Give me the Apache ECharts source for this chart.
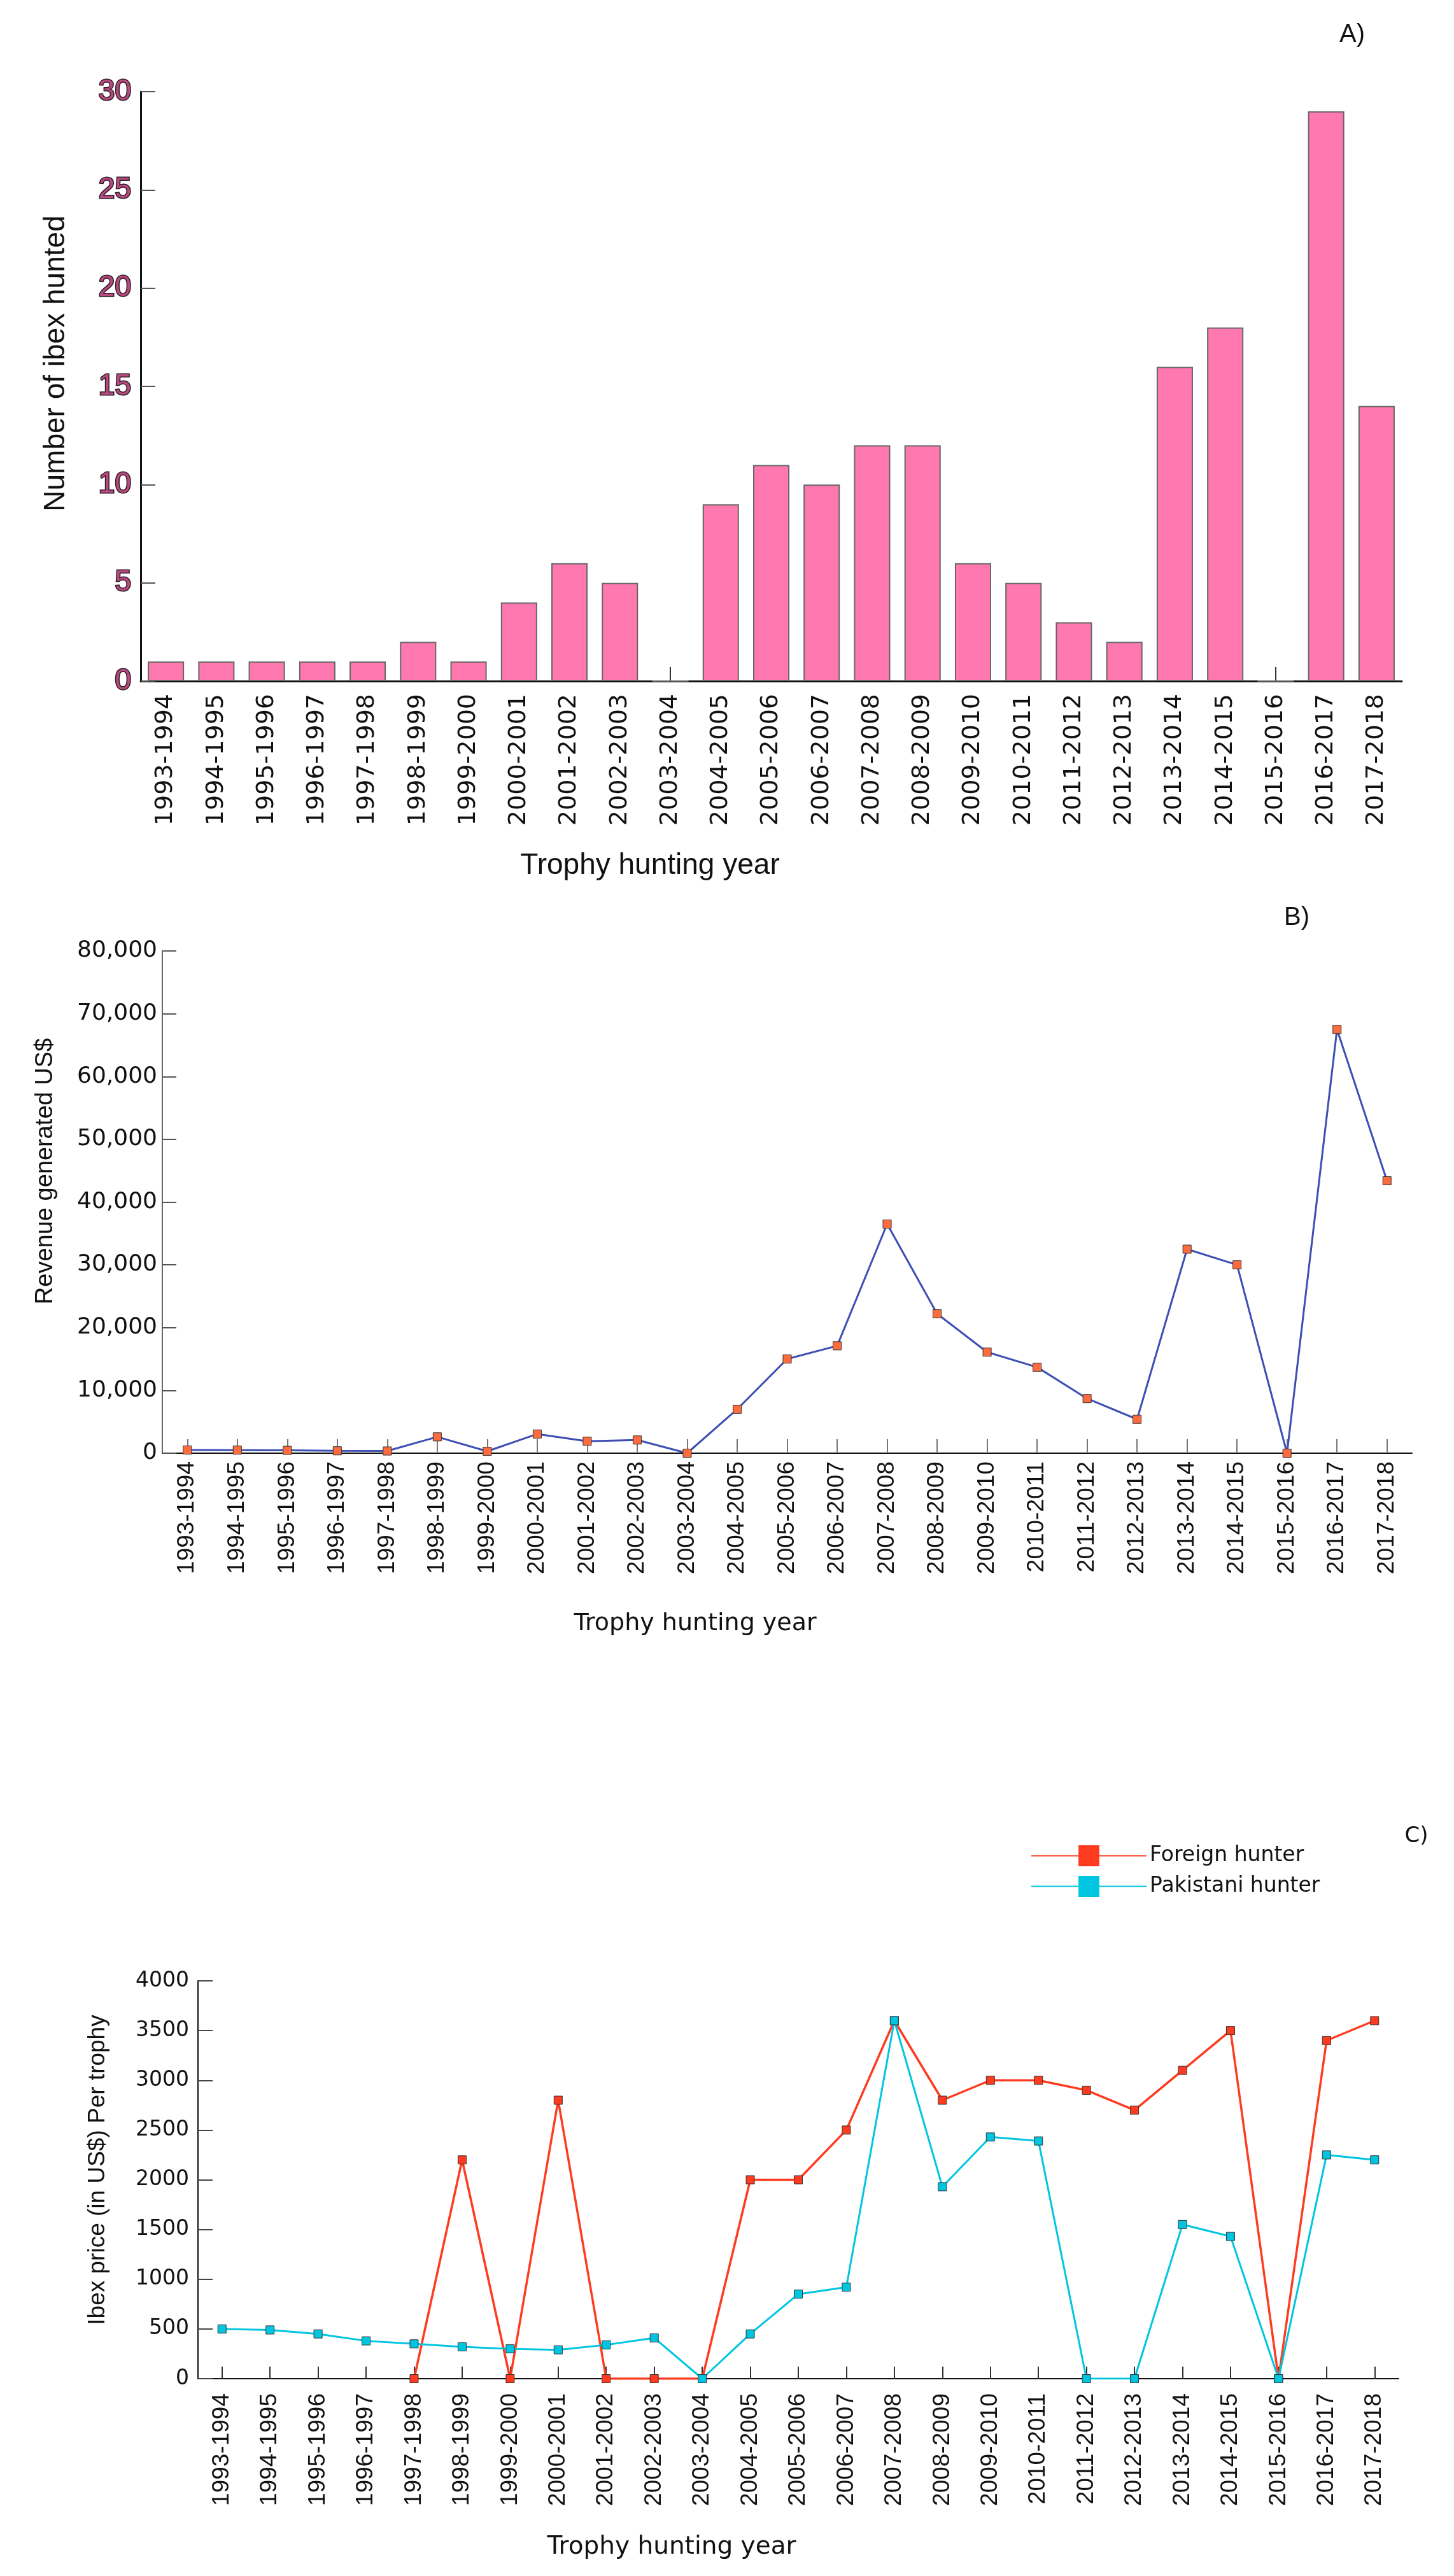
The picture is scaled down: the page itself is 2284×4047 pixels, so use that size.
<!DOCTYPE html>
<html>
<head>
<meta charset="utf-8">
<title>Ibex trophy hunting</title>
<script src="https://cdn.jsdelivr.net/npm/echarts@6/dist/echarts.min.js"></script>
<style>
    html, body { margin: 0; padding: 0; background: #fff; }
    #chart { width: 2284px; height: 4047px; }
</style>
</head>
<body>
<div id="chart"></div>
<script>
var years = ['1993-1994', '1994-1995', '1995-1996', '1996-1997', '1997-1998', '1998-1999',
    '1999-2000', '2000-2001', '2001-2002', '2002-2003', '2003-2004', '2004-2005', '2005-2006',
    '2006-2007', '2007-2008', '2008-2009', '2009-2010', '2010-2011', '2011-2012', '2012-2013',
    '2013-2014', '2014-2015', '2015-2016', '2016-2017', '2017-2018'];

// A) number of ibex hunted
var ibexHunted = [1, 1, 1, 1, 1, 2, 1, 4, 6, 5, 0, 9, 11, 10, 12, 12, 6, 5, 3, 2, 16, 18, 0, 29, 14];

// B) revenue generated US$
var revenue = [500, 490, 450, 380, 350, 2600, 300, 3050, 1900, 2100, 0, 7000, 15000, 17100,
    36500, 22200, 16100, 13700, 8700, 5400, 32500, 30000, 0, 67500, 43400];

// C) price per trophy
var foreignPrice = [null, null, null, null, 0, 2200, 0, 2800, 0, 0, 0, 2000, 2000, 2500,
    3600, 2800, 3000, 3000, 2900, 2700, 3100, 3500, 0, 3400, 3600];
var pakistaniPrice = [500, 490, 450, 380, 350, 320, 300, 290, 340, 410, 0, 450, 850, 920,
    3600, 1930, 2430, 2390, 0, 0, 1550, 1430, 0, 2250, 2200];

var wide = 'DejaVu Sans';
var narrow = 'Liberation Sans';

var chart = echarts.init(document.getElementById('chart'));

function caption(text, x, y, size, family, rotate) {
    return {
        type: 'text',
        x: x,
        y: y,
        rotation: rotate ? Math.PI / 2 : 0,
        style: {
            text: text,
            fontSize: size,
            fontFamily: family,
            fill: '#111',
            align: 'center',
            verticalAlign: 'middle'
        }
    };
}

chart.setOption({
    backgroundColor: '#fff',
    animation: false,
    grid: [
        { left: 221, top: 144, width: 1981, height: 926 },
        { left: 255, top: 1494, width: 1963, height: 789 },
        { left: 311, top: 3112, width: 1886, height: 625 }
    ],
    legend: {
        data: ['Foreign hunter', 'Pakistani hunter'],
        orient: 'vertical',
        left: 1614,
        top: 2894,
        itemWidth: 181,
        itemHeight: 41,
        itemGap: 15,
        itemStyle: { borderWidth: 0 },
        lineStyle: { width: 2 },
        textStyle: { fontFamily: wide, fontSize: 33, color: '#111' }
    },
    xAxis: [{
        type: 'category',
        gridIndex: 0,
        data: years,
        axisLine: { lineStyle: { color: '#111', width: 3 } },
        axisTick: { show: true, inside: true, alignWithLabel: true, length: 22, lineStyle: { color: '#333', width: 2 } },
        axisLabel: { rotate: 90, margin: 20, fontFamily: wide, fontSize: 38, color: '#111', interval: 0 }
    }, {
        type: 'category',
        gridIndex: 1,
        data: years,
        axisLine: { lineStyle: { color: '#111', width: 2 } },
        axisTick: { show: true, inside: true, alignWithLabel: true, length: 22, lineStyle: { color: '#777', width: 2 } },
        axisLabel: { rotate: 90, margin: 13, fontFamily: narrow, fontSize: 37, color: '#111', interval: 0 }
    }, {
        type: 'category',
        gridIndex: 2,
        data: years,
        axisLine: { lineStyle: { color: '#111', width: 2 } },
        axisTick: { show: true, inside: true, alignWithLabel: true, length: 19, lineStyle: { color: '#333', width: 2 } },
        axisLabel: { rotate: 90, margin: 23, fontFamily: narrow, fontSize: 37, color: '#111', interval: 0 }
    }],
    yAxis: [{
        type: 'value',
        gridIndex: 0,
        min: 0,
        max: 30,
        interval: 5,
        splitLine: { show: false },
        axisLine: { show: true, lineStyle: { color: '#111', width: 3 } },
        axisTick: { show: true, inside: true, length: 23, lineStyle: { color: '#555', width: 2 } },
        axisLabel: {
            margin: 15, fontFamily: narrow, fontSize: 46,
            color: '#b84a80', textBorderColor: '#2a1a22', textBorderWidth: 3
        }
    }, {
        type: 'value',
        gridIndex: 1,
        min: 0,
        max: 80000,
        interval: 10000,
        splitLine: { show: false },
        axisLine: { show: true, lineStyle: { color: '#666', width: 2 } },
        axisTick: { show: true, inside: true, length: 22, lineStyle: { color: '#555', width: 2 } },
        axisLabel: {
            margin: 8, fontFamily: wide, fontSize: 36, color: '#111',
            formatter: function (v) { return v.toLocaleString('en-US'); }
        }
    }, {
        type: 'value',
        gridIndex: 2,
        min: 0,
        max: 4000,
        interval: 500,
        splitLine: { show: false },
        axisLine: { show: true, lineStyle: { color: '#111', width: 2 } },
        axisTick: { show: true, inside: true, length: 23, lineStyle: { color: '#444', width: 2 } },
        axisLabel: {
            margin: 14, fontFamily: wide, fontSize: 33, color: '#111',
            formatter: function (v) { return String(v); }
        }
    }],
    series: [{
        name: 'Ibex hunted',
        type: 'bar',
        xAxisIndex: 0,
        yAxisIndex: 0,
        barWidth: '72%',
        itemStyle: { color: '#ff78b0', borderColor: '#666', borderWidth: 2 },
        data: ibexHunted
    }, {
        name: 'Revenue',
        type: 'line',
        xAxisIndex: 1,
        yAxisIndex: 1,
        symbol: 'rect',
        symbolSize: 13,
        lineStyle: { color: '#3d4fb3', width: 3 },
        itemStyle: { color: '#ff6b3d', borderColor: '#333', borderWidth: 1 },
        data: revenue
    }, {
        name: 'Foreign hunter',
        type: 'line',
        xAxisIndex: 2,
        yAxisIndex: 2,
        symbol: 'rect',
        symbolSize: 13,
        lineStyle: { color: '#ff3b1f', width: 3.5 },
        itemStyle: { color: '#ff3b1f', borderColor: '#333', borderWidth: 1 },
        data: foreignPrice
    }, {
        name: 'Pakistani hunter',
        type: 'line',
        xAxisIndex: 2,
        yAxisIndex: 2,
        symbol: 'rect',
        symbolSize: 13,
        lineStyle: { color: '#00c5e0', width: 3 },
        itemStyle: { color: '#00c5e0', borderColor: '#333', borderWidth: 1 },
        data: pakistaniPrice
    }],
    graphic: [
        caption('A)', 2124, 55, 40, narrow, false),
        caption('Number of ibex hunted', 88, 571, 46, narrow, true),
        caption('Trophy hunting year', 1021, 1360, 46, narrow, false),
        caption('B)', 2037, 1442, 40, narrow, false),
        caption('Revenue generated US$', 72, 1840, 38, narrow, true),
        caption('Trophy hunting year', 1092, 2551, 38, wide, false),
        caption('C)', 2225, 2885, 34, wide, false),
        caption('Ibex price (in US$) Per trophy', 154, 3409, 37, narrow, true),
        caption('Trophy hunting year', 1055, 4002, 39, wide, false)
    ]
});
</script>
</body>
</html>
